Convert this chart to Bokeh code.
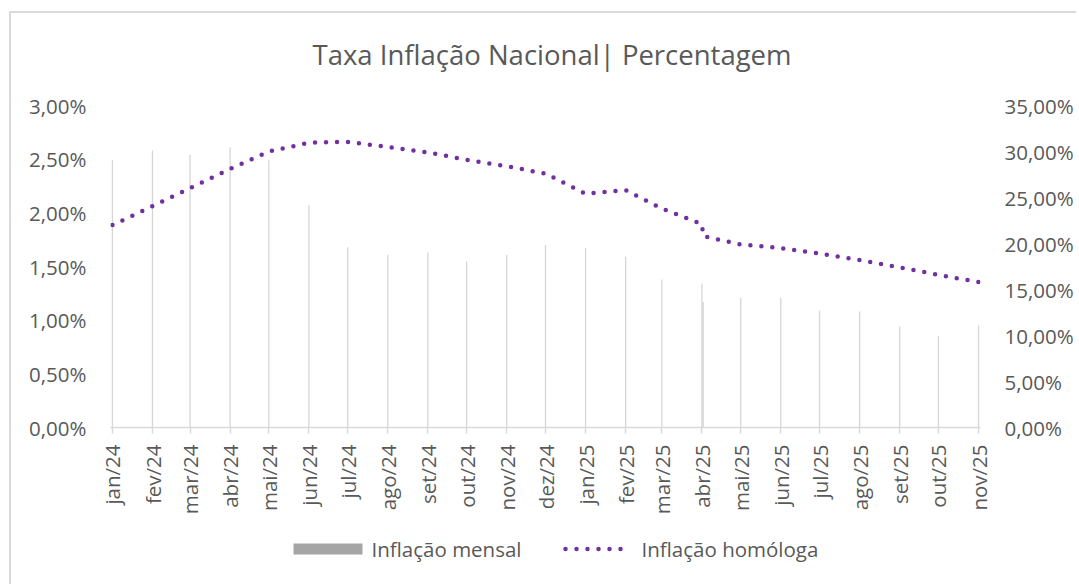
import pandas as pd
from bokeh.plotting import figure
from bokeh.layouts import column
from bokeh.models import Range1d, LinearAxis, FixedTicker, ColumnDataSource
from bokeh.core.properties import value
from bokeh.embed import file_html
from bokeh.resources import INLINE

# ---------------- data ----------------
series_names = ["Inflação mensal", "Inflação homóloga"]
month_labels = ["jan/24", "fev/24", "mar/24", "abr/24", "mai/24", "jun/24", "jul/24",
                "ago/24", "set/24", "out/24", "nov/24", "dez/24", "jan/25", "fev/25",
                "mar/25", "abr/25", "mai/25", "jun/25", "jul/25", "ago/25", "set/25",
                "out/25", "nov/25"]
month_dates = ["2024-01-01", "2024-02-01", "2024-03-01", "2024-04-01", "2024-05-01",
               "2024-06-01", "2024-07-01", "2024-08-01", "2024-09-01", "2024-10-01",
               "2024-11-01", "2024-12-01", "2025-01-01", "2025-02-01", "2025-03-01",
               "2025-04-01", "2025-05-01", "2025-06-01", "2025-07-01", "2025-08-01",
               "2025-09-01", "2025-10-01", "2025-11-01"]

# observations (April 2025 appears twice in the source series)
obs_dates = ["2024-01-01", "2024-02-01", "2024-03-01", "2024-04-01", "2024-05-01",
             "2024-06-01", "2024-07-01", "2024-08-01", "2024-09-01", "2024-10-01",
             "2024-11-01", "2024-12-01", "2025-01-01", "2025-02-01", "2025-03-01",
             "2025-04-01", "2025-04-02", "2025-05-01", "2025-06-01", "2025-07-01",
             "2025-08-01", "2025-09-01", "2025-10-01", "2025-11-01"]
inflacao_mensal = [2.49, 2.58, 2.54, 2.61, 2.49, 2.07, 1.68, 1.61, 1.63, 1.55, 1.61, 1.70,
                   1.67, 1.59, 1.38, 1.34, 1.17, 1.21, 1.21, 1.09, 1.08, 0.94, 0.85, 0.95]
inflacao_homologa = [22.0, 24.05, 26.0, 28.1, 30.0, 30.95, 31.05, 30.5, 29.9, 29.1, 28.4,
                     27.6, 25.4, 25.8, 23.8, 22.1, 20.8, 19.9, 19.5, 18.9, 18.2, 17.4,
                     16.6, 15.8]

left_ticks = [0, 0.5, 1.0, 1.5, 2.0, 2.5, 3.0]
left_labels = ["0,00%", "0,50%", "1,00%", "1,50%", "2,00%", "2,50%", "3,00%"]
right_ticks = [0, 5, 10, 15, 20, 25, 30, 35]
right_labels = ["0,00%", "5,00%", "10,00%", "15,00%", "20,00%", "25,00%", "30,00%", "35,00%"]

# ---------------- build ----------------
origin = pd.Timestamp("2024-01-01")
tick_days = [float((pd.Timestamp(d) - origin).days) for d in month_dates]
obs_days = [float((pd.Timestamp(d) - origin).days) for d in obs_dates]

src = ColumnDataSource(dict(x=obs_days, mensal=inflacao_mensal, homologa=inflacao_homologa))

FONT = "Open Sans"
TXT = "#595959"
GRID = "#d9d9d9"
LBL = "20.5px"
BAR = "#A5A5A5"
PURPLE = "#7030A0"

W = 1076
H1 = 526   # main chart
H2 = 58    # legend strip
FRAME_L, FRAME_R, FRAME_T, FRAME_B = 110, 980, 104, 427

p = figure(width=W, height=H1, output_backend="svg", toolbar_location=None,
           x_range=Range1d(tick_days[0] - 1.5, tick_days[-1] + 1.5),
           y_range=Range1d(0, 3),
           min_border_left=FRAME_L, min_border_right=W - FRAME_R, min_border_top=FRAME_T,
           min_border_bottom=H1 - FRAME_B)
p.extra_y_ranges = {"right": Range1d(0, 35)}
p.outline_line_color = None
p.xgrid.visible = False
p.ygrid.visible = False
p.background_fill_color = "white"
p.border_fill_color = None

p.title.text = "Taxa Inflação Nacional| Percentagem"
p.title.align = "left"
p.title.offset = 202
p.title.text_font = FONT
p.title.text_font_size = "27.5px"
p.title.text_font_style = "normal"
p.title.text_color = TXT
p.title.standoff = 66

p.vbar(x="x", top="mensal", width=1.0, source=src, fill_color=BAR,
       fill_alpha=0.45, line_color=None)
p.line(x="x", y="homologa", source=src, y_range_name="right", line_color=PURPLE,
       line_width=4.5, line_dash="0 11", line_cap="round")

# x axis
xa = p.xaxis[0]
xa.ticker = FixedTicker(ticks=tick_days)
xa.major_label_overrides = {d: lab for d, lab in zip(tick_days, month_labels)}
xa.major_label_orientation = 1.5707963267948966
xa.axis_line_color = GRID
xa.axis_line_width = 1.5
xa.major_tick_line_color = GRID
xa.major_tick_line_width = 1.5
xa.major_tick_in = 0
xa.major_tick_out = 6
xa.minor_tick_line_color = None
xa.major_label_standoff = 11
xa.major_label_text_font = FONT
xa.major_label_text_font_size = LBL
xa.major_label_text_color = TXT

# left axis
ya = p.yaxis[0]
ya.ticker = FixedTicker(ticks=left_ticks)
ya.major_label_overrides = {t: lab for t, lab in zip(left_ticks, left_labels)}
ya.axis_line_color = None
ya.major_tick_line_color = None
ya.major_tick_out = 0
ya.major_tick_in = 0
ya.minor_tick_line_color = None
ya.major_label_standoff = 24
ya.major_label_text_font = FONT
ya.major_label_text_font_size = LBL
ya.major_label_text_color = TXT

# right axis
ra = LinearAxis(y_range_name="right", ticker=FixedTicker(ticks=right_ticks))
ra.major_label_overrides = {t: lab for t, lab in zip(right_ticks, right_labels)}
ra.axis_line_color = None
ra.major_tick_line_color = None
ra.major_tick_out = 0
ra.major_tick_in = 0
ra.minor_tick_line_color = None
ra.major_label_standoff = 24
ra.major_label_text_font = FONT
ra.major_label_text_font_size = LBL
ra.major_label_text_color = TXT
p.add_layout(ra, "right")

# legend strip: its frame is aligned with the main frame, coordinates = page pixels
lf = figure(width=W, height=H2, output_backend="svg", toolbar_location=None,
            x_range=Range1d(FRAME_L, FRAME_R), y_range=Range1d(H2, 0),
            x_axis_location=None, y_axis_location=None,
            min_border_left=FRAME_L, min_border_right=W - FRAME_R,
            min_border_top=0, min_border_bottom=0)
lf.grid.visible = False
lf.outline_line_color = None
lf.background_fill_color = None
lf.border_fill_color = None
LY = 22.5
lf.quad(left=[293], right=[362], top=[LY - 5.5], bottom=[LY + 5.5],
        fill_color=BAR, line_color=None)
lf.line(x=[565, 621], y=[LY, LY], line_color=PURPLE, line_width=4.5,
        line_dash="0 11", line_cap="round")
lf.text(x=[371, 641], y=[LY, LY], text=series_names, text_font=value(FONT),
        text_font_size=value(LBL), text_color=TXT, text_baseline="middle",
        text_align="left")

layout = column(p, lf, spacing=0)
layout.styles = {
    "background-color": "white",
    "background-image": "linear-gradient(#dadada, #dadada), linear-gradient(#dadada, #dadada)",
    "background-size": "2000px 2px, 2px 2000px",
    "background-position": "9px 11px, 9px 11px",
    "background-repeat": "no-repeat",
}

open("out.html", "w").write(file_html(layout, INLINE))
